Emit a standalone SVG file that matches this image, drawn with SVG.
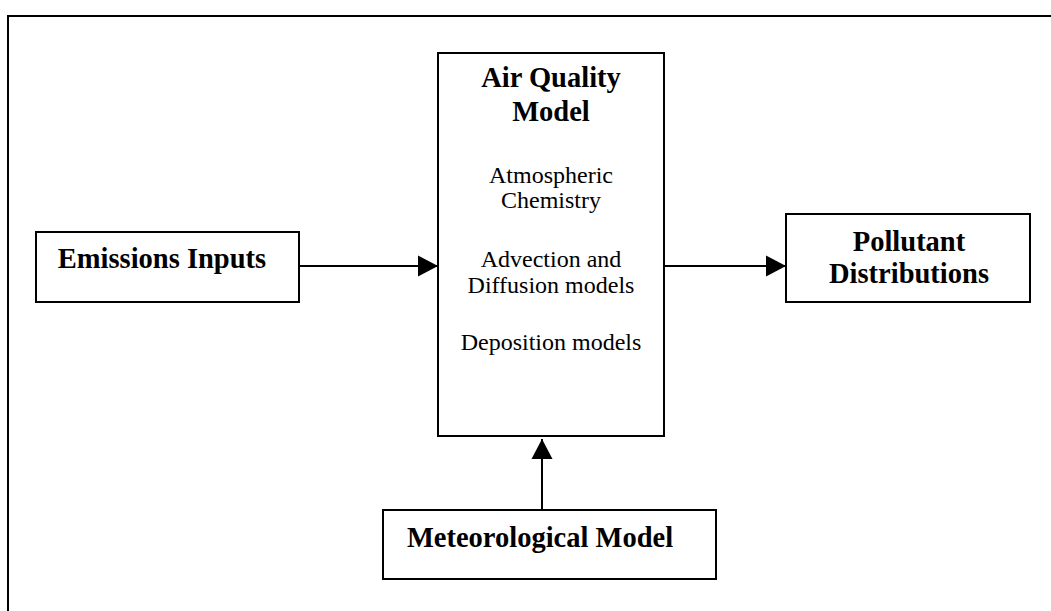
<svg xmlns="http://www.w3.org/2000/svg" width="1051" height="611" viewBox="0 0 1051 611">
<style>
.box{fill:#fff;stroke:#000;stroke-width:2}
.b{font-family:"Liberation Serif","Times New Roman",serif;font-weight:bold;font-size:28.5px;text-anchor:middle;fill:#000}
.r{font-family:"Liberation Serif","Times New Roman",serif;font-size:24px;text-anchor:middle;fill:#000}
.c{stroke:#000;stroke-width:2;fill:none}
</style>
<defs>
<marker id="ah" markerUnits="userSpaceOnUse" markerWidth="22" markerHeight="22" refX="20" refY="11" orient="auto">
<path d="M0,0.5 L20,11 L0,21.5 Z" fill="#000"/>
</marker>
</defs>
<rect width="1051" height="611" fill="#fff"/>
<path d="M8,611 L8,16 L1051,16" fill="none" stroke="#000" stroke-width="2"/>
<g id="emissions">
<rect class="box" x="36" y="232" width="263" height="70"/>
<text class="b" x="162" y="268">Emissions Inputs</text>
</g>
<g id="aqm">
<rect class="box" x="438" y="53" width="226" height="383"/>
<text class="b" x="551" y="87">Air Quality</text>
<text class="b" x="551" y="121">Model</text>
<text class="r" x="551" y="183">Atmospheric</text>
<text class="r" x="551" y="208">Chemistry</text>
<text class="r" x="551" y="267">Advection and</text>
<text class="r" x="551" y="293">Diffusion models</text>
<text class="r" x="551" y="350">Deposition models</text>
</g>
<g id="pollutant">
<rect class="box" x="786" y="214" width="244" height="88"/>
<text class="b" x="909" y="251">Pollutant</text>
<text class="b" x="909" y="283">Distributions</text>
</g>
<g id="met">
<rect class="box" x="383" y="510" width="333" height="69"/>
<text class="b" x="540" y="547">Meteorological Model</text>
</g>
<g id="connectors">
<line class="c" x1="299" y1="266" x2="438" y2="266" marker-end="url(#ah)"/>
<line class="c" x1="664" y1="266" x2="786" y2="266" marker-end="url(#ah)"/>
<line class="c" x1="542" y1="510" x2="542" y2="439" marker-end="url(#ah)"/>
</g>
</svg>
